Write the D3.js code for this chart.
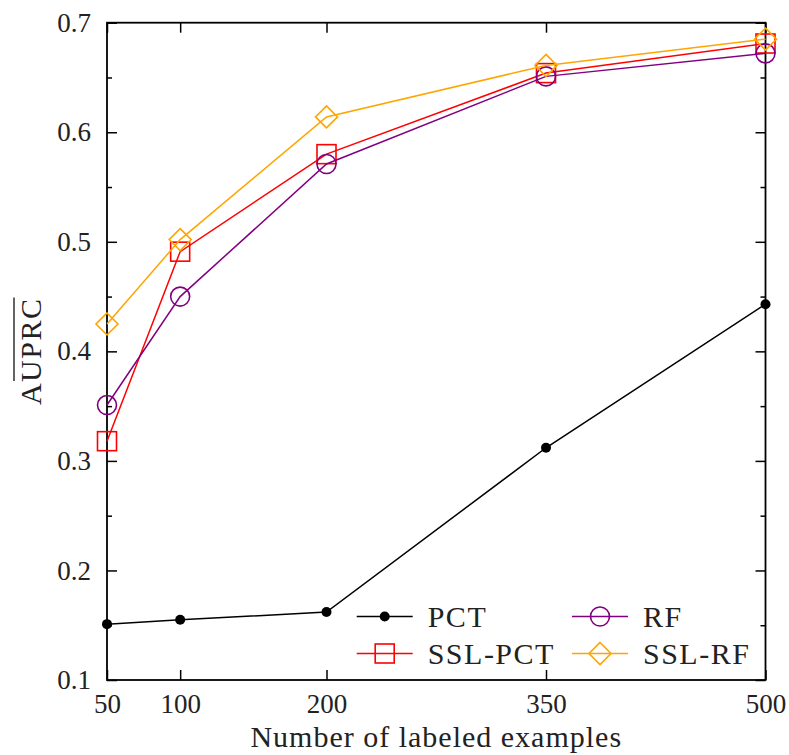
<!DOCTYPE html>
<html>
<head>
<meta charset="utf-8">
<script src="https://cdn.jsdelivr.net/npm/d3@7"></script>
<style>
  body { margin: 0; background: #fff; }
  svg { display: block; }
  text { font-family: "Liberation Serif", "Times New Roman", serif; fill: #222; }
</style>
</head>
<body>
<svg id="chart" width="789" height="755"></svg>
<script>
// data
const labeled = [50, 100, 200, 350, 500];
const pct    = [0.151, 0.155, 0.162, 0.312, 0.443];
const sslPct = [0.318, 0.491, 0.580, 0.654, 0.681];
const rf     = [0.351, 0.450, 0.571, 0.651, 0.672];
const sslRf  = [0.425, 0.502, 0.614, 0.661, 0.685];

const yTicks = [0.1, 0.2, 0.3, 0.4, 0.5, 0.6, 0.7];
const yMinor = [0.15, 0.25, 0.35, 0.45, 0.55, 0.65];

const series = [
  { name: 'PCT',     values: pct,    color: '#000000', mark: 'dot' },
  { name: 'SSL-PCT', values: sslPct, color: '#ff0000', mark: 'square' },
  { name: 'RF',      values: rf,     color: '#800080', mark: 'circle' },
  { name: 'SSL-RF',  values: sslRf,  color: '#ffa500', mark: 'diamond' }
];

const svg = d3.select('#chart');
const pLeft = 107, pRight = 765.5, pTop = 22.7, pBottom = 680;

const x = d3.scaleLinear().domain([50, 500]).range([pLeft, pRight]);
const y = d3.scaleLinear().domain([0.1, 0.7]).range([pBottom, pTop]);

// axes, ticks pointing inward
const styleAxis = g => {
  g.select('.domain').remove();
  g.selectAll('line').attr('stroke', '#000').attr('stroke-width', 1.5);
  g.selectAll('text').style('font-size', '27px').style('font-family', '"Liberation Serif", serif').attr('fill', '#222');
};

svg.append('g').attr('transform', `translate(0,${pBottom})`)
  .call(d3.axisBottom(x).tickValues(labeled).tickSizeInner(-10).tickSizeOuter(0).tickPadding(14))
  .call(styleAxis);
svg.append('g').attr('transform', `translate(0,${pTop})`)
  .call(d3.axisTop(x).tickValues(labeled).tickSizeInner(-10).tickSizeOuter(0).tickFormat(''))
  .call(styleAxis);
svg.append('g').attr('transform', `translate(${pLeft},0)`)
  .call(d3.axisLeft(y).tickValues(yTicks).tickSizeInner(-10).tickSizeOuter(0).tickPadding(16).tickFormat(d3.format('.1f')))
  .call(styleAxis);
svg.append('g').attr('transform', `translate(${pLeft},0)`)
  .call(d3.axisLeft(y).tickValues(yMinor).tickSizeInner(-5).tickSizeOuter(0).tickFormat(''))
  .call(styleAxis);
svg.append('g').attr('transform', `translate(${pRight},0)`)
  .call(d3.axisRight(y).tickValues(yTicks).tickSizeInner(-10).tickSizeOuter(0).tickFormat(''))
  .call(styleAxis);
svg.append('g').attr('transform', `translate(${pRight},0)`)
  .call(d3.axisRight(y).tickValues(yMinor).tickSizeInner(-5).tickSizeOuter(0).tickFormat(''))
  .call(styleAxis);

// frame
svg.append('rect')
  .attr('x', pLeft).attr('y', pTop)
  .attr('width', pRight - pLeft).attr('height', pBottom - pTop)
  .attr('fill', 'none').attr('stroke', '#000').attr('stroke-width', 1.8);

// axis titles
svg.append('text')
  .attr('x', (pLeft + pRight) / 2).attr('y', 747)
  .attr('text-anchor', 'middle')
  .style('font-size', '30px').style('letter-spacing', '1px')
  .text('Number of labeled examples');

const midY = (pTop + pBottom) / 2;
const yLab = svg.append('text')
  .attr('transform', `translate(41,${midY}) rotate(-90)`)
  .attr('text-anchor', 'middle')
  .style('font-size', '30px').style('letter-spacing', '1.5px')
  .text('AUPRC');
// overline over "UPRC"
const yNode = yLab.node();
const full = yNode.getComputedTextLength();
const aLen = yNode.getSubStringLength(0, 1);
svg.append('line')
  .attr('x1', 14).attr('x2', 14)
  .attr('y1', midY + full / 2 - aLen - 1).attr('y2', midY - full / 2)
  .attr('stroke', '#222').attr('stroke-width', 1.4);

// markers
const drawMark = (g, s, cx, cy) => {
  if (s.mark === 'dot') {
    g.append('circle').attr('cx', cx).attr('cy', cy).attr('r', 5).attr('fill', s.color);
  } else if (s.mark === 'circle') {
    g.append('circle').attr('cx', cx).attr('cy', cy).attr('r', 9.5)
      .attr('fill', 'none').attr('stroke', s.color).attr('stroke-width', 1.6);
  } else if (s.mark === 'square') {
    g.append('rect').attr('x', cx - 9.5).attr('y', cy - 9.5).attr('width', 19).attr('height', 19)
      .attr('fill', 'none').attr('stroke', s.color).attr('stroke-width', 1.6);
  } else if (s.mark === 'diamond') {
    g.append('path')
      .attr('d', `M${cx},${cy - 11}L${cx + 11},${cy}L${cx},${cy + 11}L${cx - 11},${cy}Z`)
      .attr('fill', 'none').attr('stroke', s.color).attr('stroke-width', 1.6);
  }
};

const line = d3.line().x((d, i) => x(labeled[i])).y(d => y(d));

series.forEach(s => {
  const g = svg.append('g');
  g.append('path').datum(s.values)
    .attr('d', line)
    .attr('fill', 'none').attr('stroke', s.color).attr('stroke-width', 1.5);
  s.values.forEach((v, i) => drawMark(g, s, x(labeled[i]), y(v)));
});

// legend, two columns
const legCols = [356.7, 572];
const legRows = [616.5, 653.5];
const legOrder = [[0, 0], [0, 1], [1, 0], [1, 1]];
series.forEach((s, i) => {
  const lx = legCols[legOrder[i][0]], ly = legRows[legOrder[i][1]];
  const g = svg.append('g');
  g.append('line').attr('x1', lx).attr('x2', lx + 56).attr('y1', ly).attr('y2', ly)
    .attr('stroke', s.color).attr('stroke-width', 1.5);
  drawMark(g, s, lx + 28, ly);
  g.append('text').attr('x', lx + 71).attr('y', ly + 10)
    .style('font-size', '30px').style('letter-spacing', '1.5px')
    .text(s.name);
});
</script>
</body>
</html>
